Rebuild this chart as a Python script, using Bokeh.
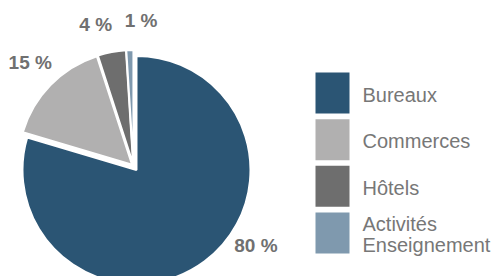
import numpy as np
from bokeh.plotting import figure
from bokeh.models import Range1d
from bokeh.core.properties import value
from bokeh.embed import file_html
from bokeh.resources import INLINE

# ---- data ----
categories = ["Bureaux", "Commerces", "Hôtels", "Activités Enseignement"]
shares = [79.6, 15.4, 4.0, 1.0]
pct_labels = ["80 %", "15 %", "4 %", "1 %"]
colors = ["#2b5574", "#b1b0b0", "#6e6e6e", "#7f99ae"]

# ---- style / layout ----
W, H = 501, 276
cx, cy = 133.0, 110.5          # pie centre (pixels, y up)
radius = 114.0
explode = np.array([5.0, 2.0, 2.0, 2.0])
label_angle = np.radians([-33, 135, 105, 87])
label_radius = 146.0
text_color = "#707070"

p = figure(width=W, height=H, output_backend="svg", toolbar_location=None,
           x_range=Range1d(0, W), y_range=Range1d(0, H), min_border=0)
p.axis.visible = False
p.grid.visible = False
p.outline_line_color = None
p.background_fill_color = "white"
p.border_fill_color = "white"

frac = np.array(shares) / sum(shares)
cum = np.concatenate([[0.0], np.cumsum(frac)])
start_cw = np.radians(90 - 360 * cum[:-1])
end_cw = np.radians(90 - 360 * cum[1:])
mid = (start_cw + end_cw) / 2
wx = cx + explode * np.cos(mid)
wy = cy + explode * np.sin(mid)

p.wedge(x=wx, y=wy, radius=radius, start_angle=end_cw, end_angle=start_cw,
        fill_color=colors, line_color="white", line_width=2)

lx = cx + label_radius * np.cos(label_angle)
ly = cy + label_radius * np.sin(label_angle)
p.text(x=lx, y=ly, text=pct_labels, text_align="center", text_baseline="middle",
       text_font=value("Liberation Sans"), text_font_style="bold",
       text_font_size="19px", text_color=text_color)

# ---- legend (drawn manually) ----
leg_x, leg_top, leg_pitch = 332.0, 183.5, 46.67
sq_w, sq_h = 34, 41
idx = np.arange(len(categories))
sy = leg_top - leg_pitch * idx
p.rect(x=leg_x, y=sy, width=sq_w, height=sq_h, fill_color=colors, line_color=None)
leg_labels = [c.replace(" ", "\n") for c in categories]
p.text(x=362, y=sy - 1.5, text=leg_labels, text_align="left", text_baseline="middle",
       text_font=value("Liberation Sans"), text_font_size="20px",
       text_line_height=0.92, text_color="#777777")

open("out.html", "w").write(file_html(p, INLINE))
